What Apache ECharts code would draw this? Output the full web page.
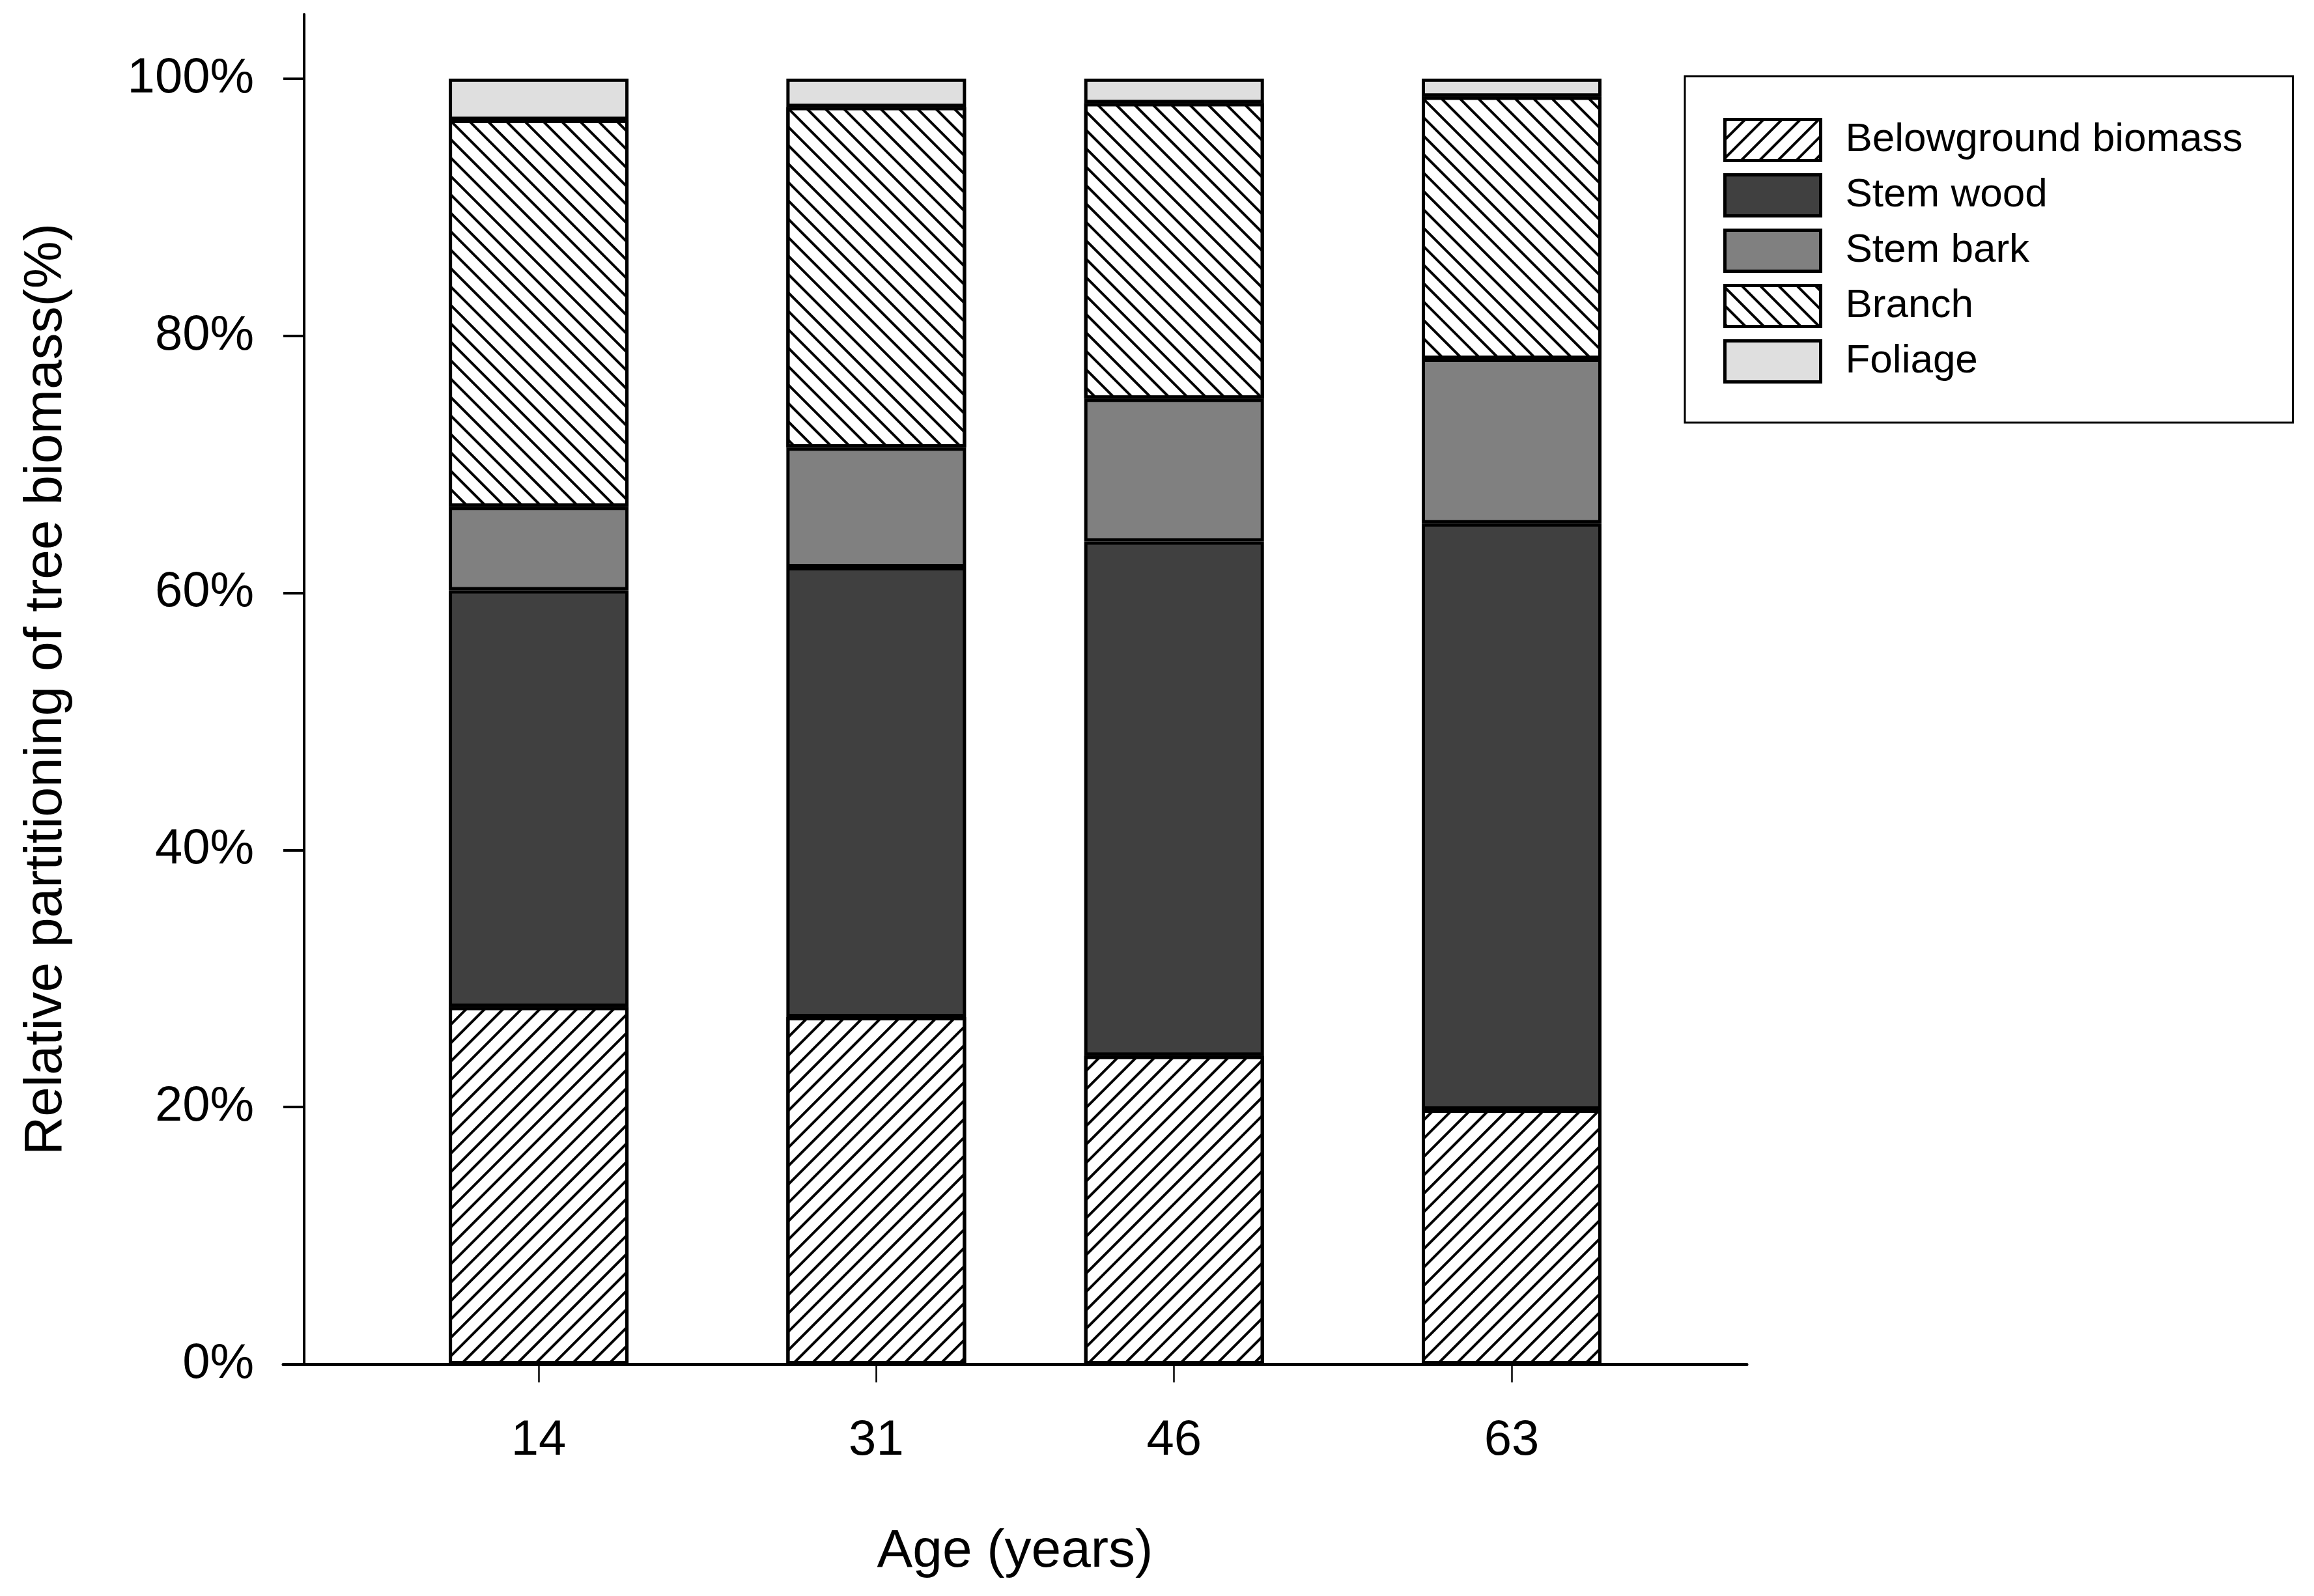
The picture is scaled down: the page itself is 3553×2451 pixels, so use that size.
<!DOCTYPE html>
<html>
<head>
<meta charset="utf-8">
<script src="https://cdn.jsdelivr.net/npm/echarts@6/dist/echarts.min.js"></script>
<style>
  html, body { margin: 0; padding: 0; background: #fff; }
  #chart { width: 3553px; height: 2451px; }
</style>
</head>
<body>
<div id="chart"></div>
<script>
const ages = [14, 31, 46, 63];
const belowground = [27.8, 27.0, 24.0, 19.8];
const stemWood = [32.4, 35.0, 40.0, 45.6];
const stemBark = [6.5, 9.3, 11.1, 12.8];
const branch = [30.1, 26.5, 23.0, 20.4];
const foliage = [3.2, 2.2, 1.9, 1.4];
const yTicks = [0, 20, 40, 60, 80, 100];

const font = 'Liberation Sans';
const myChart = echarts.init(document.getElementById('chart'));

// hatch patterns
const hatchUp = {
  symbol: 'rect', symbolSize: 1, color: '#000',
  dashArrayX: [1, 0], dashArrayY: [4, 16], rotation: -Math.PI / 4
};
const hatchDown = {
  symbol: 'rect', symbolSize: 1, color: '#000',
  dashArrayX: [1, 0], dashArrayY: [4, 16], rotation: Math.PI / 4
};

// value first so that the stack runs on the y dimension
function makeSeries(name, values, color, decal) {
  return {
    name: name,
    type: 'bar',
    stack: 'total',
    barWidth: 276,
    encode: { x: 1, y: 0 },
    data: ages.map((a, i) => [values[i], a]),
    itemStyle: {
      color: color,
      borderColor: '#000',
      borderWidth: 5,
      decal: decal
    }
  };
}

const option = {
  animation: false,
  backgroundColor: '#fff',
  grid: { left: 435, right: 871, top: 22, bottom: 356 },
  legend: {
    orient: 'vertical',
    left: 2587,
    top: 117,
    itemWidth: 147,
    itemHeight: 63,
    itemGap: 17,
    padding: [64, 77, 60, 59],
    borderColor: '#000',
    borderWidth: 3,
    icon: 'rect',
    itemStyle: { borderColor: '#000', borderWidth: 5 },
    textStyle: { fontFamily: font, fontSize: 62, color: '#000', padding: [0, 0, 0, 33] },
    data: ['Belowground biomass', 'Stem wood', 'Stem bark', 'Branch', 'Foliage']
  },
  xAxis: {
    type: 'value',
    min: 1.14,
    max: 74.84,
    name: 'Age (years)',
    nameLocation: 'middle',
    nameGap: 247,
    nameTextStyle: { fontFamily: font, fontSize: 82, color: '#000' },
    axisLine: { lineStyle: { color: '#000', width: 5 } },
    axisTick: { show: true, length: 28, lineStyle: { color: '#000', width: 2.5 }, customValues: ages },
    axisLabel: { fontFamily: font, fontSize: 76, color: '#000', margin: 80, customValues: ages },
    splitLine: { show: false }
  },
  yAxis: {
    type: 'value',
    min: 0,
    max: 105,
    offset: -32,
    name: 'Relative partitioning of tree biomass(%)',
    nameLocation: 'middle',
    nameGap: 355,
    nameTextStyle: { fontFamily: font, fontSize: 82, color: '#000' },
    axisLine: { show: true, lineStyle: { color: '#000', width: 4 } },
    axisTick: { show: true, length: 32, lineStyle: { color: '#000', width: 4 }, customValues: yTicks },
    axisLabel: { fontFamily: font, fontSize: 76, color: '#000', margin: 77, formatter: '{value}%', customValues: yTicks },
    splitLine: { show: false }
  },
  series: [
    makeSeries('Belowground biomass', belowground, '#fff', hatchUp),
    makeSeries('Stem wood', stemWood, '#404040', null),
    makeSeries('Stem bark', stemBark, '#808080', null),
    makeSeries('Branch', branch, '#fff', hatchDown),
    makeSeries('Foliage', foliage, '#dfdfdf', null)
  ]
};
myChart.setOption(option);
</script>
</body>
</html>
